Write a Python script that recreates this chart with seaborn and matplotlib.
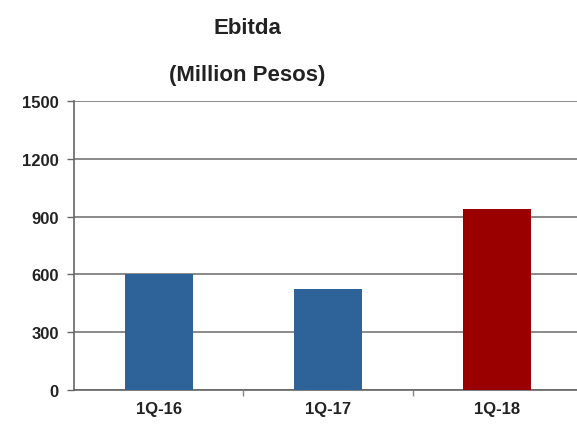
import matplotlib
matplotlib.use("Agg")
import matplotlib.pyplot as plt
import seaborn as sns
import pandas as pd

categories = ["1Q-16", "1Q-17", "1Q-18"]
values = [600, 525, 940]
bar_colors = ["#2E6399", "#2E6399", "#9A0000"]
yticks = [0, 300, 600, 900, 1200, 1500]

sns.set_theme(style="white")
plt.rcParams['font.family'] = ['Liberation Sans', 'DejaVu Sans']

df = pd.DataFrame({"cat": categories, "val": values})

fig = plt.figure(figsize=(5.77, 4.27), dpi=100)
ax = fig.add_axes([74/577, 36/427, 508/577, 289/427])
sns.barplot(data=df, x="cat", y="val", hue="cat", palette=bar_colors,
            width=0.4, legend=False, ax=ax, saturation=1, zorder=3, linewidth=0)

ax.set_ylim(0, 1500)
ax.set_xlim(-0.5, 2.5)
ax.set_yticks(yticks)
ax.set_yticklabels([str(v) for v in yticks], fontsize=12, fontweight="bold", color="#222222")
ax.set_xticks([0, 1, 2])
ax.set_xticklabels(categories, fontsize=12, fontweight="bold", color="#222222")
ax.set_xlabel("")
ax.set_ylabel("")
ax.yaxis.grid(True, color="#777777", linewidth=1.2, zorder=0)
ax.set_axisbelow(True)
for s in ["top", "right"]:
    ax.spines[s].set_visible(False)
ax.spines["left"].set_color("#666666")
ax.spines["bottom"].set_color("#666666")
ax.spines["left"].set_linewidth(1.2)
ax.spines["bottom"].set_linewidth(1.2)
ax.tick_params(axis="y", which="major", length=5, width=1, color="#666666", left=True, pad=6)
ax.tick_params(axis="x", which="major", length=0, pad=8)
ax.set_xticks([0.5, 1.5], minor=True)
ax.tick_params(axis="x", which="minor", length=4, width=1, color="#888888", bottom=True)

fig.text(247/577, 1 - 28/427, "Ebitda", ha="center", va="center",
         fontsize=16, fontweight="bold", color="#222222")
fig.text(247/577, 1 - 75/427, "(Million Pesos)", ha="center", va="center",
         fontsize=16, fontweight="bold", color="#222222")

fig.savefig("out.png", dpi=100)
